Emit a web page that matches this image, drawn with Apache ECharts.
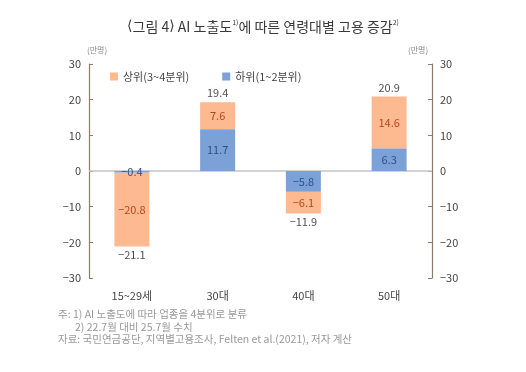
<!DOCTYPE html>
<html><head><meta charset="utf-8">
<script src="https://cdn.jsdelivr.net/npm/echarts@6/dist/echarts.min.js"></script>
<style>html,body{margin:0;padding:0;background:#fff}#c{width:526px;height:372px}</style>
</head><body><div id="c"></div>
<script>
const categories = ['15~29세', '30대', '40대', '50대'];
const upperName = '상위(3~4분위)';
const lowerName = '하위(1~2분위)';
const upperValues = [-20.8, 7.6, -6.1, 14.6];
const lowerValues = [-0.4, 11.7, -5.8, 6.3];
const totalValues = [-21.1, 19.4, -11.9, 20.9];
const yTicks = [-30, -20, -10, 0, 10, 20, 30];

const FONT = '"Noto Sans CJK KR", "Noto Sans", sans-serif';
const fmt = v => (v < 0 ? '\u2212' + Math.abs(v).toFixed(1) : v.toFixed(1));
const axisColor = '#8c7b66';

const chart = echarts.init(document.getElementById('c'), null, {renderer: 'canvas'});
const yAxisCommon = {
  type: 'value', min: yTicks[0], max: yTicks[yTicks.length - 1], interval: 10,
  axisLine: {show: true, lineStyle: {color: axisColor, width: 1.2}},
  axisTick: {show: true, inside: true, length: 4, lineStyle: {color: axisColor}},
  splitLine: {show: false},
  axisLabel: {color: '#444', fontSize: 11, fontFamily: FONT, formatter: v => v < 0 ? '\u2212' + Math.abs(v) : String(v)}
};
chart.setOption({
  textStyle: {fontFamily: FONT},
  title: {
    text: '{br|⟨}그림 4{br|⟩} AI 노출도{sup|1)}에 따른 연령대별 고용 증감{sup|2)}',
    left: 'center', top: 14,
    textStyle: {
      fontSize: 14, fontWeight: 'normal', color: '#3a3a3a', fontFamily: FONT,
      rich: {
        sup: {fontSize: 7, verticalAlign: 'top', color: '#3a3a3a', fontFamily: FONT, padding: [0, 0, 8, 0]},
        br: {fontSize: 14, color: '#3a3a3a', fontFamily: '"DejaVu Sans", sans-serif'}
      }
    }
  },
  legend: {
    data: [upperName, lowerName], left: 105, top: 66,
    icon: 'rect', itemWidth: 8, itemHeight: 8, itemGap: 33,
    textStyle: {fontSize: 11, color: '#444', fontFamily: FONT}
  },
  grid: {left: 89, right: 94, top: 64, bottom: 94},
  xAxis: {
    type: 'category', data: categories,
    axisLine: {show: false}, axisTick: {show: false},
    axisLabel: {color: '#444', fontSize: 11, fontFamily: FONT, margin: 12}
  },
  yAxis: [
    Object.assign({position: 'left'}, yAxisCommon),
    Object.assign({position: 'right'}, yAxisCommon)
  ],
  series: [
    {
      name: 'zero', type: 'line', data: [], z: 1,
      markLine: {silent: true, symbol: 'none', label: {show: false}, animation: false, z: 1,
        lineStyle: {color: '#c4c4c4', type: 'solid', width: 1.5}, data: [{yAxis: 0}]}
    },
    {
      name: lowerName, type: 'bar', stack: 'a', data: lowerValues, barWidth: 35,
      itemStyle: {color: '#7ba1d7'},
      label: {show: true, position: 'inside', color: '#2c4f88', fontSize: 11, fontFamily: FONT, formatter: p => fmt(p.value)},
      z: 3
    },
    {
      name: upperName, type: 'bar', stack: 'a', data: upperValues, barWidth: 35,
      itemStyle: {color: '#fdb98f'},
      label: {show: true, position: 'inside', color: '#b8461c', fontSize: 11, fontFamily: FONT, formatter: p => fmt(p.value)}
    },
    {
      name: 'total', type: 'scatter', symbolSize: 0,
      data: totalValues.map(v => ({value: v, label: {position: v < 0 ? 'bottom' : 'top'}})),
      label: {show: true, color: '#222', fontSize: 11, fontFamily: FONT, distance: 3, formatter: p => fmt(p.value)},
      z: 5
    }
  ],
  graphic: [
    {type: 'text', left: 87, top: 46, style: {text: '(만명)', fontSize: 8, fill: '#888', fontFamily: FONT}},
    {type: 'text', left: 408, top: 46, style: {text: '(만명)', fontSize: 8, fill: '#888', fontFamily: FONT}},
    {type: 'text', left: 58, top: 309, style: {text: '주: 1) AI 노출도에 따라 업종을 4분위로 분류', fontSize: 10.5, fill: '#999', fontFamily: FONT}},
    {type: 'text', left: 75, top: 322, style: {text: '2) 22.7월 대비 25.7월 수치', fontSize: 10.5, fill: '#999', fontFamily: FONT}},
    {type: 'text', left: 58, top: 334, style: {text: '자료: 국민연금공단, 지역별고용조사, Felten et al.(2021), 저자 계산', fontSize: 10.5, fill: '#999', fontFamily: FONT}}
  ]
});
</script></body></html>
